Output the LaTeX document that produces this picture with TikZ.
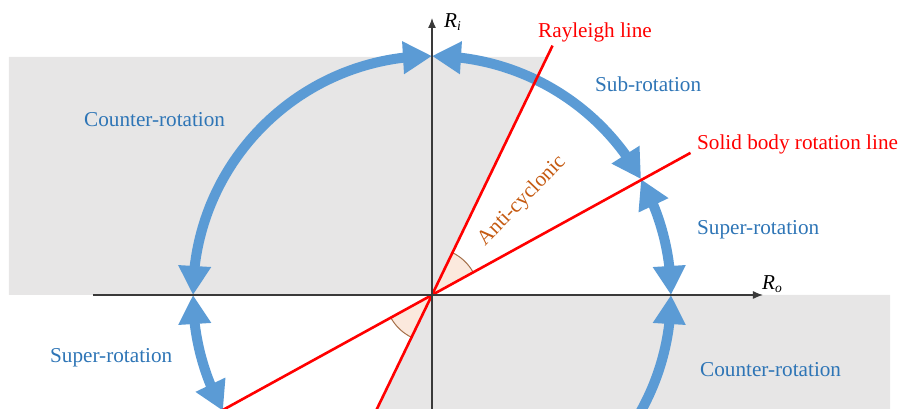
\documentclass[tikz,border=0pt]{standalone}
\usepackage{fontspec}
\setmainfont{Liberation Serif}
\usetikzlibrary{arrows.meta,bending}
\definecolor{arrowblue}{HTML}{5B9BD5}
\definecolor{textblue}{HTML}{2E75B6}
\definecolor{bggray}{HTML}{E7E6E6}
\definecolor{antiorange}{HTML}{C55A11}
\definecolor{axisgray}{HTML}{3A3A3A}
\definecolor{wedgebrown}{HTML}{A5704A}
\definecolor{wedgefill}{HTML}{FBE9DD}
\begin{document}
\begin{tikzpicture}[x=1pt,y=1pt,
  font=\fontsize{21.2}{24}\selectfont,
  rotarrow/.style={draw=arrowblue, line width=10pt,
    {Triangle[length=29pt,width=31pt]}-{Triangle[length=29pt,width=31pt]}},
  rotarrowone/.style={draw=arrowblue, line width=10pt,
    -{Triangle[length=29pt,width=31pt]}},
  redline/.style={draw=red, line width=2.6pt},
  axisline/.style={draw=axisgray, line width=1.3pt, -{Latex[length=10pt,width=8pt]}},
  bluelabel/.style={text=textblue, inner sep=0pt},
  redlabel/.style={text=red, inner sep=0pt},
  wedge/.style={fill=wedgefill, draw=none},
  wedgearc/.style={draw=wedgebrown, line width=1pt}]
\useasboundingbox (-432,-114) rectangle (466,295);
\begin{scope}
\clip (-432,-114) rectangle (466,295);
% gray regions
\fill[bggray] (-423,238) -- (115,238) -- (0,0) -- (-423,0) -- cycle;
\fill[bggray] (0,0) -- (-55,-114) -- (458,-114) -- (458,0) -- cycle;
% coordinates
\coordinate (O) at (0,0);
\coordinate (top) at (90:239);
\coordinate (left) at (180:239);
\coordinate (right) at (0:239);
\coordinate (sb) at (29:239);
\coordinate (low) at (-40:239);
\coordinate (rayA) at (64.2:277);
\coordinate (rayB) at (244.2:200);
\coordinate (sbA) at (28.8:295);
\coordinate (sbB) at (208.8:300);
% angle wedges
\fill[wedge] (O) -- (28.8:47) arc[start angle=28.8, end angle=64.2, radius=47] -- cycle;
\fill[wedge] (O) -- (208.8:47) arc[start angle=208.8, end angle=244.2, radius=47] -- cycle;
\draw[wedgearc] (28.8:47) arc[start angle=28.8, end angle=64.2, radius=47];
\draw[wedgearc] (208.8:47) arc[start angle=208.8, end angle=244.2, radius=47];
% blue arcs
\draw[rotarrow] (top) arc[start angle=90, end angle=180, radius=239];
\draw[rotarrow] (top) arc[start angle=90, end angle=29, radius=239];
\draw[rotarrow] (sb) arc[start angle=29, end angle=0, radius=239];
\draw[rotarrow] (left) arc[start angle=180, end angle=209, radius=239];
\draw[rotarrowone] (low) arc[start angle=-40, end angle=0, radius=239];
% red lines
\draw[redline] (rayB) -- (rayA);
\draw[redline] (sbB) -- (sbA);
% axes
\draw[axisline] (-339,0) coordinate (xstart) -- (331,0) coordinate (xend);
\draw[axisline] (0,-114) coordinate (ystart) -- (0,277) coordinate (yend);
\end{scope}
% labels
\node[inner sep=0pt, anchor=base west] (Ri) at (12,267) {\textit{R}\raisebox{-0.25ex}{\fontsize{13.5}{14}\selectfont\textit{i}}};
\node[inner sep=0pt, anchor=base west] (Ro) at (330,5) {\textit{R}\raisebox{-0.25ex}{\fontsize{13.5}{14}\selectfont\textit{o}}};
\node[redlabel, anchor=base west] (rayl) at (106,257) {Rayleigh line};
\node[redlabel, anchor=base west] (sbl) at (265,145) {Solid body rotation line};
\node[bluelabel, anchor=base west] (subl) at (163,203) {Sub-rotation};
\node[bluelabel, anchor=base west] (supr) at (265,60) {Super-rotation};
\node[bluelabel, anchor=base west] (ctl) at (-348,168) {Counter-rotation};
\node[bluelabel, anchor=base west] (supl) at (-382,-68) {Super-rotation};
\node[bluelabel, anchor=base west] (cbr) at (268,-82) {Counter-rotation};
\node[text=antiorange, inner sep=0pt, rotate=46] (anti) at (90,94) {Anti-cyclonic};
\end{tikzpicture}
\end{document}
